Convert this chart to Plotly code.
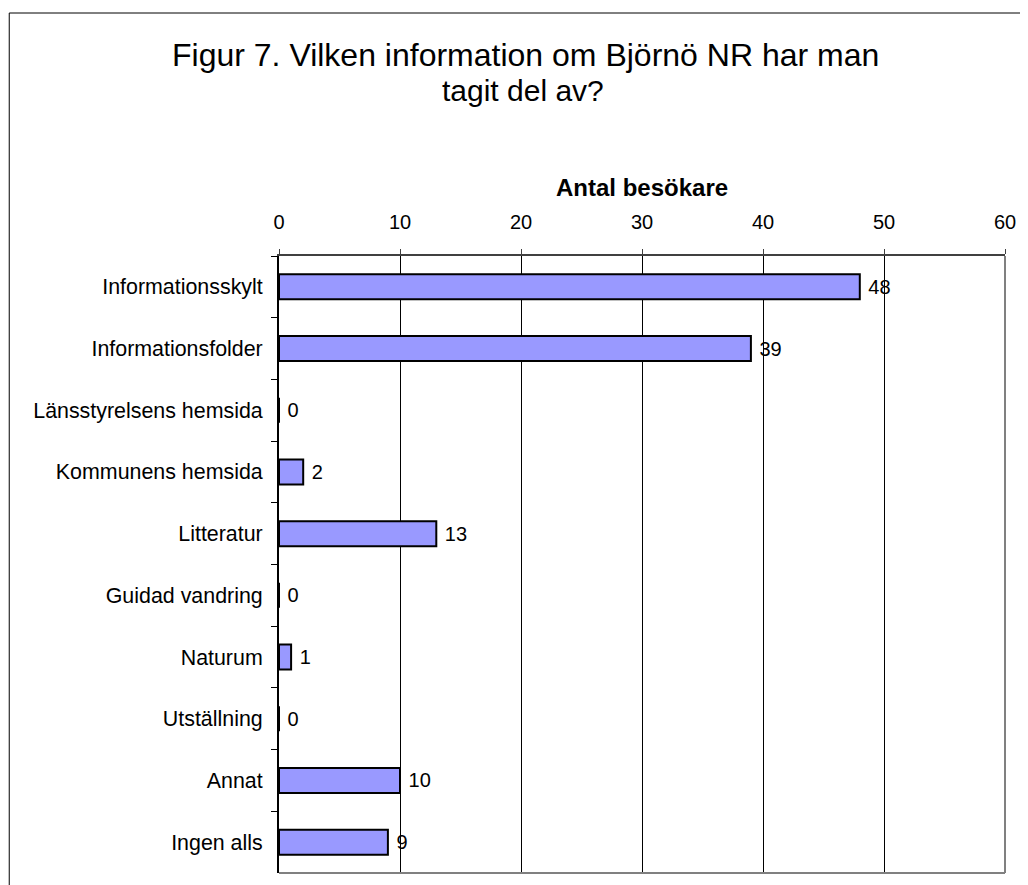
import plotly.graph_objects as go

categories = ["Informationsskylt", "Informationsfolder", "Länsstyrelsens hemsida",
              "Kommunens hemsida", "Litteratur", "Guidad vandring", "Naturum",
              "Utställning", "Annat", "Ingen alls"]
values = [48, 39, 0, 2, 13, 0, 1, 0, 10, 9]
x_ticks = [0, 10, 20, 30, 40, 50, 60]
title_lines = ["Figur 7. Vilken information om Björnö NR har man", "tagit del av?"]
axis_title = "Antal besökare"

FONT = "Liberation Sans, Arial, sans-serif"

OFF = 8  # page body margin
W, H = 1028 - OFF, 885 - OFF
# plot area in reference-screen pixels
PL, PR, PT, PB = 279, 1007, 256, 873
L, R, T, B = PL - OFF, W - (PR - OFF), PT - OFF, H - (PB - OFF)
pw, ph = W - L - R, H - T - B


def px_x(x):
    return (x - OFF - L) / pw


def px_y(y):
    return 1 - (y - OFF - T) / ph


fig = go.Figure(go.Bar(
    x=values, y=categories, orientation="h",
    marker=dict(color="#9999FF", line=dict(color="black", width=2)),
    text=["\u00a0" + str(v) for v in values], textposition="outside",
    textfont=dict(family=FONT, size=20, color="black"),
    cliponaxis=False,
))

fig.update_layout(
    width=W, height=H,
    margin=dict(l=L, r=R, t=T, b=B),
    paper_bgcolor="white", plot_bgcolor="white",
    showlegend=False,
    bargap=0.595,
    font=dict(family=FONT, color="black"),
    xaxis=dict(side="top", range=[0, 60], tickvals=x_ticks,
               ticktext=[str(t) for t in x_ticks],
               showgrid=True, gridcolor="black", gridwidth=1,
               showline=True, linecolor="#404040", linewidth=2,
               ticks="outside", ticklen=5, tickcolor="#404040",
               tickfont=dict(size=20), zeroline=False,
               ticklabelstandoff=12),
    yaxis=dict(autorange="reversed", showline=True, linecolor="black", linewidth=2,
               ticks="outside", ticklen=6, tickson="boundaries", tickcolor="black",
               tickfont=dict(size=21.4), showgrid=False, zeroline=False,
               ticklabelstandoff=10),
    annotations=[
        dict(text=title_lines[0], xref="paper", yref="paper",
             x=px_x(526.5), y=px_y(55), xanchor="center", yanchor="middle",
             showarrow=False, font=dict(size=32, family=FONT)),
        dict(text=title_lines[1], xref="paper", yref="paper",
             x=px_x(524), y=px_y(90), xanchor="center", yanchor="middle",
             showarrow=False, font=dict(size=30, family=FONT)),
        dict(text="<b>" + axis_title + "</b>", xref="paper", yref="paper",
             x=0.5, y=px_y(187), xanchor="center", yanchor="middle",
             showarrow=False, font=dict(size=24, family=FONT)),
    ],
    shapes=[
        dict(type="rect", xref="paper", yref="paper",
             x0=px_x(OFF + 0.5), x1=px_x(1100), y0=px_y(13), y1=px_y(950),
             line=dict(color="black", width=1), layer="below"),
        dict(type="line", xref="paper", yref="paper", x0=1, x1=1, y0=0, y1=1,
             line=dict(color="#808080", width=2)),
        dict(type="line", xref="paper", yref="paper", x0=0, x1=1, y0=0, y1=0,
             line=dict(color="#808080", width=2)),
    ],
)

fig.write_html("out.html")
